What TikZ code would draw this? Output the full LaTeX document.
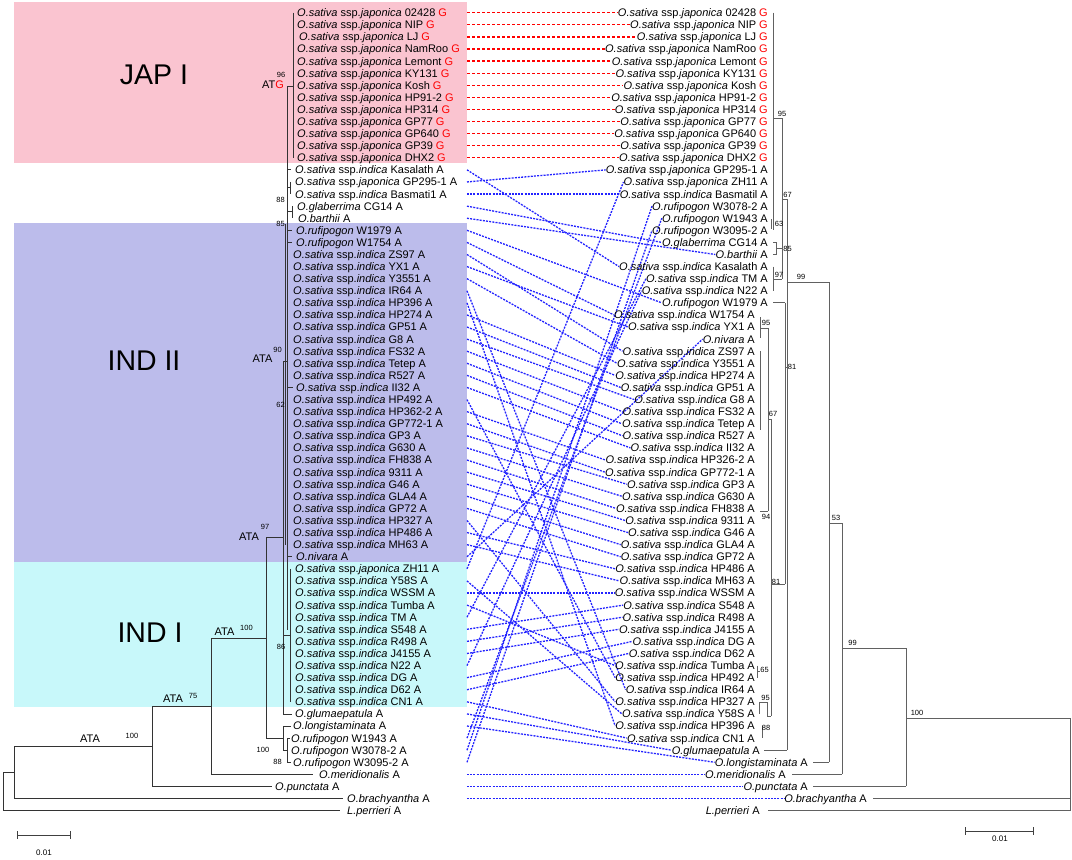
\documentclass[tikz,border=0pt]{standalone}
\usepackage{fontspec}
\setmainfont{Liberation Sans}
\definecolor{jpink}{RGB}{250,196,208}
\definecolor{ilav}{RGB}{188,188,235}
\definecolor{icyan}{RGB}{200,248,250}
\definecolor{lnred}{RGB}{255,0,0}
\definecolor{lnblue}{RGB}{35,35,255}
\newcommand\rowy[1]{12.7+12.09*(#1)}
\newcommand\sspjap{\textit{O.sativa} ssp.\textit{japonica}}
\newcommand\sspind{\textit{O.sativa} ssp.\textit{indica}}
\newcommand\gG{\textcolor{red}{G}}
\pgfdeclarelayer{backdrop}
\pgfdeclarelayer{links}
\pgfsetlayers{backdrop,links,main}
\begin{document}
\begin{tikzpicture}[x=1pt,y=-1pt,
  leaf/.style={font=\fontsize{11}{12}\selectfont, inner sep=0pt, text height=7.9pt, text depth=0pt},
  lft/.style={leaf, anchor=west},
  rgt/.style={leaf, anchor=east},
  boot/.style={font=\fontsize{7.5}{8}\selectfont, inner sep=0pt},
  ata/.style={font=\fontsize{11}{12}\selectfont, inner sep=0pt},
  clade/.style={font=\fontsize{28.5}{30}\selectfont, inner sep=0pt},
  ltree/.style={draw=black!80, line width=0.8pt},
  rtree/.style={draw=black!62, line width=0.9pt},
  japlink/.style={color=lnred, line width=1.3pt, dash pattern=on 3.3pt off 1.7pt},
  indlink/.style={color=lnblue, line width=1.3pt, dash pattern=on 2pt off 1.2pt},
  sbar/.style={draw=black!75, line width=0.8pt},
  sbtext/.style={font=\fontsize{8}{9}\selectfont, inner sep=0pt}]
\begin{pgfonlayer}{backdrop}
\fill[white] (0,0) rectangle (1072,860);
\fill[jpink] (14,2) rectangle (467,163);
\fill[ilav] (14,223) rectangle (467,562);
\fill[icyan] (14,562) rectangle (467,707);
\end{pgfonlayer}
\useasboundingbox (0,0) rectangle (1072,860);
\node[clade] (japI) at (154,75) {JAP I};
\node[clade] (indII) at (144,361) {IND II};
\node[clade] (indI) at (150,633) {IND I};

% ---------------- left tree ----------------
\draw[ltree] (293,{\rowy{0}}) -- (293,{\rowy{12}});
\draw[ltree] (287,86) -- (293,86);
\draw[ltree] (287,86) -- (287,630);
\draw[ltree] (285,224) -- (285,545);
\draw[ltree] (287,{\rowy{13}}) -- (291,{\rowy{13}});
\draw[ltree] (290,{\rowy{14}}) -- (290,{\rowy{15}});
\draw[ltree] (287,187.5) -- (290,187.5);
\draw[ltree] (292,{\rowy{16}}) -- (292,{\rowy{17}});
\draw[ltree] (287,211.5) -- (292,211.5);
\draw[ltree] (287,{\rowy{18}}) -- (292,{\rowy{18}});
\draw[ltree] (287,{\rowy{19}}) -- (292,{\rowy{19}});
\draw[ltree] (287,{\rowy{31}}) -- (293,{\rowy{31}});
\draw[ltree] (287,{\rowy{45}}) -- (292,{\rowy{45}});
\draw[ltree] (283,361) -- (287,361);
\draw[ltree] (283,361) -- (283,{\rowy{58}});
\draw[ltree] (283,{\rowy{58}}) -- (292,{\rowy{58}});
\draw[ltree] (283,635) -- (290,635);
\draw[ltree] (290,{\rowy{46}}) -- (290,{\rowy{57}});
\draw[ltree] (266,537) -- (283,537);
\draw[ltree] (266,537) -- (266,{\rowy{60}});
\draw[ltree] (266,{\rowy{60}}) -- (283,{\rowy{60}});
\draw[ltree] (283,{\rowy{59}}) -- (283,750);
\draw[ltree] (283,{\rowy{59}}) -- (291,{\rowy{59}});
\draw[ltree] (283,750) -- (287,750);
\draw[ltree] (287,{\rowy{60}}) -- (287,{\rowy{62}});
\draw[ltree] (287,{\rowy{60}}) -- (290,{\rowy{60}});
\draw[ltree] (287,{\rowy{62}}) -- (291,{\rowy{62}});
\draw[ltree] (211,638) -- (266,638);
\draw[ltree] (211,638) -- (211,{\rowy{63}}) -- (313,{\rowy{63}});
\draw[ltree] (152,706) -- (211,706);
\draw[ltree] (152,706) -- (152,{\rowy{64}}) -- (272,{\rowy{64}});
\draw[ltree] (14,746) -- (152,746);
\draw[ltree] (14,746) -- (14,{\rowy{65}}) -- (343,{\rowy{65}});
\draw[ltree] (3,772) -- (14,772);
\draw[ltree] (3,772) -- (3,{\rowy{66}}) -- (340,{\rowy{66}});

% ---------------- right tree ----------------
\draw[rtree] (773,{\rowy{0}}) -- (773,{\rowy{18}});
\draw[rtree] (771,219) -- (771,229);
\draw[rtree] (773,118) -- (782,118);
\draw[rtree] (773,{\rowy{19}}) -- (776,{\rowy{19}}) -- (776,{\rowy{20}}) -- (773,{\rowy{20}});
\draw[rtree] (776,248.5) -- (782,248.5);
\draw[rtree] (773,{\rowy{21}}) -- (773,{\rowy{23}});
\draw[rtree] (773,279) -- (782,279);
\draw[rtree] (782,118) -- (782,279);
\draw[rtree] (782,199) -- (787,199);
\draw[rtree] (773,{\rowy{24}}) -- (785,{\rowy{24}});
\draw[rtree] (785,{\rowy{24}}) -- (785,584);
\draw[rtree] (785,367) -- (787,367);
\draw[rtree] (787,199) -- (787,{\rowy{61}});
\draw[rtree] (764,{\rowy{61}}) -- (787,{\rowy{61}});
\draw[rtree] (787,282) -- (829,282);
\draw[rtree] (829,282) -- (829,{\rowy{62}});
\draw[rtree] (813,{\rowy{62}}) -- (829,{\rowy{62}});
\draw[rtree] (829,523) -- (842,523);
\draw[rtree] (842,523) -- (842,{\rowy{63}});
\draw[rtree] (792,{\rowy{63}}) -- (842,{\rowy{63}});
\draw[rtree] (842,648) -- (906,648);
\draw[rtree] (906,648) -- (906,{\rowy{64}});
\draw[rtree] (813,{\rowy{64}}) -- (906,{\rowy{64}});
\draw[rtree] (906,718) -- (1070,718);
\draw[rtree] (1070,718) -- (1070,{\rowy{66}});
\draw[rtree] (873,{\rowy{65}}) -- (1070,{\rowy{65}});
\draw[rtree] (768,{\rowy{66}}) -- (1070,{\rowy{66}});
\draw[rtree] (760,317) -- (760,338);
\draw[rtree] (760,328) -- (768,328);
\draw[rtree] (768,328) -- (768,511);
\draw[rtree] (760,511) -- (768,511);
\draw[rtree] (760,351) -- (760,430);
\draw[rtree] (768,419) -- (771,419);
\draw[rtree] (771,419) -- (771,716);
\draw[rtree] (771,584) -- (785,584);
\draw[rtree] (757,{\rowy{54}}) -- (757,{\rowy{55}});
\draw[rtree] (757,671.6) -- (760,671.6);
\draw[rtree] (759,{\rowy{57}}) -- (759,{\rowy{58}});
\draw[rtree] (759,702) -- (767,702);
\draw[rtree] (767,702) -- (767,716) -- (771,716);
\draw[rtree] (762,{\rowy{59}}) -- (762,{\rowy{60}});

% ---------------- scale bars ----------------
\draw[sbar] (17,835) -- (70,835);
\draw[sbar] (17,831) -- (17,839);
\draw[sbar] (70,831) -- (70,839);
\draw[sbar] (965,831) -- (1033,831);
\draw[sbar] (965,827) -- (965,835);
\draw[sbar] (1033,827) -- (1033,835);
\node[sbtext] (sbl) at (44,853) {0.01};
\node[sbtext] (sbr) at (1000,838.5) {0.01};

% left support values and state labels
\node[ata] (atg) at (273,85) {AT\textcolor{red}{G}};
\node[boot] (b96) at (281,75) {96};
\node[boot] (b88a) at (280.5,200) {88};
\node[boot] (b85a) at (280.5,224) {85};
\node[ata] (ata90) at (262.5,359) {ATA};
\node[boot] (b90) at (277.5,350) {90};
\node[boot] (b62) at (280.5,405) {62};
\node[ata] (ata97) at (249,537) {ATA};
\node[boot] (b97) at (265,527) {97};
\node[boot] (b86) at (281,647) {86};
\node[ata] (ata100a) at (224.5,632) {ATA};
\node[boot] (b100a) at (246.5,628) {100};
\node[ata] (ata75) at (173,699) {ATA};
\node[boot] (b75) at (193,696) {75};
\node[ata] (ata100b) at (90,739) {ATA};
\node[boot] (b100b) at (132,736) {100};
\node[boot] (b100c) at (263,750) {100};
\node[boot] (b88b) at (277.5,762) {88};

% right support values
\node[boot] (r95a) at (782,114) {95};
\node[boot] (r67a) at (787.5,195) {67};
\node[boot] (r63) at (779,224) {63};
\node[boot] (r85) at (787.5,249) {85};
\node[boot] (r97) at (779,275) {97};
\node[boot] (r99a) at (801,277) {99};
\node[boot] (r81a) at (792,367) {81};
\node[boot] (r95b) at (766,323) {95};
\node[boot] (r67b) at (773,414) {67};
\node[boot] (r94) at (766,517) {94};
\node[boot] (r81b) at (776,582) {81};
\node[boot] (r53) at (836,518) {53};
\node[boot] (r65) at (764.5,670) {65};
\node[boot] (r95c) at (765.5,698) {95};
\node[boot] (r88) at (766,728) {88};
\node[boot] (r99b) at (852.5,643) {99};
\node[boot] (r100) at (917,713) {100};

% left leaves
\node[lft] (L0) at (297,{\rowy{0}}) {\sspjap{} 02428 \gG};
\node[lft] (L1) at (297,{\rowy{1}}) {\sspjap{} NIP \gG};
\node[lft] (L2) at (299,{\rowy{2}}) {\sspjap{} LJ \gG};
\node[lft] (L3) at (297,{\rowy{3}}) {\sspjap{} NamRoo \gG};
\node[lft] (L4) at (297,{\rowy{4}}) {\sspjap{} Lemont \gG};
\node[lft] (L5) at (297,{\rowy{5}}) {\sspjap{} KY131 \gG};
\node[lft] (L6) at (297,{\rowy{6}}) {\sspjap{} Kosh \gG};
\node[lft] (L7) at (297,{\rowy{7}}) {\sspjap{} HP91-2 \gG};
\node[lft] (L8) at (297,{\rowy{8}}) {\sspjap{} HP314 \gG};
\node[lft] (L9) at (297,{\rowy{9}}) {\sspjap{} GP77 \gG};
\node[lft] (L10) at (297,{\rowy{10}}) {\sspjap{} GP640 \gG};
\node[lft] (L11) at (297,{\rowy{11}}) {\sspjap{} GP39 \gG};
\node[lft] (L12) at (297,{\rowy{12}}) {\sspjap{} DHX2 \gG};
\node[lft] (L13) at (295,{\rowy{13}}) {\sspind{} Kasalath A};
\node[lft] (L14) at (295,{\rowy{14}}) {\sspjap{} GP295-1 A};
\node[lft] (L15) at (295,{\rowy{15}}) {\sspind{} Basmati1 A};
\node[lft] (L16) at (297,{\rowy{16}}) {\textit{O.glaberrima} CG14 A};
\node[lft] (L17) at (298,{\rowy{17}}) {\textit{O.barthii} A};
\node[lft] (L18) at (296,{\rowy{18}}) {\textit{O.rufipogon} W1979 A};
\node[lft] (L19) at (296,{\rowy{19}}) {\textit{O.rufipogon} W1754 A};
\node[lft] (L20) at (293,{\rowy{20}}) {\sspind{} ZS97 A};
\node[lft] (L21) at (293,{\rowy{21}}) {\sspind{} YX1 A};
\node[lft] (L22) at (293,{\rowy{22}}) {\sspind{} Y3551 A};
\node[lft] (L23) at (293,{\rowy{23}}) {\sspind{} IR64 A};
\node[lft] (L24) at (293,{\rowy{24}}) {\sspind{} HP396 A};
\node[lft] (L25) at (293,{\rowy{25}}) {\sspind{} HP274 A};
\node[lft] (L26) at (293,{\rowy{26}}) {\sspind{} GP51 A};
\node[lft] (L27) at (293,{\rowy{27}}) {\sspind{} G8 A};
\node[lft] (L28) at (293,{\rowy{28}}) {\sspind{} FS32 A};
\node[lft] (L29) at (293,{\rowy{29}}) {\sspind{} Tetep A};
\node[lft] (L30) at (293,{\rowy{30}}) {\sspind{} R527 A};
\node[lft] (L31) at (296,{\rowy{31}}) {\sspind{} II32 A};
\node[lft] (L32) at (293,{\rowy{32}}) {\sspind{} HP492 A};
\node[lft] (L33) at (293,{\rowy{33}}) {\sspind{} HP362-2 A};
\node[lft] (L34) at (293,{\rowy{34}}) {\sspind{} GP772-1 A};
\node[lft] (L35) at (293,{\rowy{35}}) {\sspind{} GP3 A};
\node[lft] (L36) at (293,{\rowy{36}}) {\sspind{} G630 A};
\node[lft] (L37) at (293,{\rowy{37}}) {\sspind{} FH838 A};
\node[lft] (L38) at (293,{\rowy{38}}) {\sspind{} 9311 A};
\node[lft] (L39) at (293,{\rowy{39}}) {\sspind{} G46 A};
\node[lft] (L40) at (293,{\rowy{40}}) {\sspind{} GLA4 A};
\node[lft] (L41) at (293,{\rowy{41}}) {\sspind{} GP72 A};
\node[lft] (L42) at (293,{\rowy{42}}) {\sspind{} HP327 A};
\node[lft] (L43) at (293,{\rowy{43}}) {\sspind{} HP486 A};
\node[lft] (L44) at (293,{\rowy{44}}) {\sspind{} MH63 A};
\node[lft] (L45) at (296,{\rowy{45}}) {\textit{O.nivara} A};
\node[lft] (L46) at (295,{\rowy{46}}) {\sspjap{} ZH11 A};
\node[lft] (L47) at (295,{\rowy{47}}) {\sspind{} Y58S A};
\node[lft] (L48) at (295,{\rowy{48}}) {\sspind{} WSSM A};
\node[lft] (L49) at (295,{\rowy{49}}) {\sspind{} Tumba A};
\node[lft] (L50) at (295,{\rowy{50}}) {\sspind{} TM A};
\node[lft] (L51) at (295,{\rowy{51}}) {\sspind{} S548 A};
\node[lft] (L52) at (295,{\rowy{52}}) {\sspind{} R498 A};
\node[lft] (L53) at (295,{\rowy{53}}) {\sspind{} J4155 A};
\node[lft] (L54) at (295,{\rowy{54}}) {\sspind{} N22 A};
\node[lft] (L55) at (295,{\rowy{55}}) {\sspind{} DG A};
\node[lft] (L56) at (295,{\rowy{56}}) {\sspind{} D62 A};
\node[lft] (L57) at (295,{\rowy{57}}) {\sspind{} CN1 A};
\node[lft] (L58) at (295,{\rowy{58}}) {\textit{O.glumaepatula} A};
\node[lft] (L59) at (293,{\rowy{59}}) {\textit{O.longistaminata} A};
\node[lft] (L60) at (291,{\rowy{60}}) {\textit{O.rufipogon} W1943 A};
\node[lft] (L61) at (291,{\rowy{61}}) {\textit{O.rufipogon} W3078-2 A};
\node[lft] (L62) at (293,{\rowy{62}}) {\textit{O.rufipogon} W3095-2 A};
\node[lft] (L63) at (319,{\rowy{63}}) {\textit{O.meridionalis} A};
\node[lft] (L64) at (275,{\rowy{64}}) {\textit{O.punctata} A};
\node[lft] (L65) at (347,{\rowy{65}}) {\textit{O.brachyantha} A};
\node[lft] (L66) at (347,{\rowy{66}}) {\textit{L.perrieri} A};

% right leaves
\node[rgt] (R0) at (768,{\rowy{0}}) {\sspjap{} 02428 \gG};
\node[rgt] (R1) at (768,{\rowy{1}}) {\sspjap{} NIP \gG};
\node[rgt] (R2) at (768,{\rowy{2}}) {\sspjap{} LJ \gG};
\node[rgt] (R3) at (768,{\rowy{3}}) {\sspjap{} NamRoo \gG};
\node[rgt] (R4) at (768,{\rowy{4}}) {\sspjap{} Lemont \gG};
\node[rgt] (R5) at (768,{\rowy{5}}) {\sspjap{} KY131 \gG};
\node[rgt] (R6) at (768,{\rowy{6}}) {\sspjap{} Kosh \gG};
\node[rgt] (R7) at (768,{\rowy{7}}) {\sspjap{} HP91-2 \gG};
\node[rgt] (R8) at (768,{\rowy{8}}) {\sspjap{} HP314 \gG};
\node[rgt] (R9) at (768,{\rowy{9}}) {\sspjap{} GP77 \gG};
\node[rgt] (R10) at (768,{\rowy{10}}) {\sspjap{} GP640 \gG};
\node[rgt] (R11) at (768,{\rowy{11}}) {\sspjap{} GP39 \gG};
\node[rgt] (R12) at (768,{\rowy{12}}) {\sspjap{} DHX2 \gG};
\node[rgt] (R13) at (768,{\rowy{13}}) {\sspjap{} GP295-1 A};
\node[rgt] (R14) at (768,{\rowy{14}}) {\sspjap{} ZH11 A};
\node[rgt] (R15) at (768,{\rowy{15}}) {\sspind{} Basmatil A};
\node[rgt] (R16) at (768,{\rowy{16}}) {\textit{O.rufipogon} W3078-2 A};
\node[rgt] (R17) at (768,{\rowy{17}}) {\textit{O.rufipogon} W1943 A};
\node[rgt] (R18) at (768,{\rowy{18}}) {\textit{O.rufipogon} W3095-2 A};
\node[rgt] (R19) at (768,{\rowy{19}}) {\textit{O.glaberrima} CG14 A};
\node[rgt] (R20) at (768,{\rowy{20}}) {\textit{O.barthii} A};
\node[rgt] (R21) at (768,{\rowy{21}}) {\sspind{} Kasalath A};
\node[rgt] (R22) at (768,{\rowy{22}}) {\sspind{} TM A};
\node[rgt] (R23) at (768,{\rowy{23}}) {\sspind{} N22 A};
\node[rgt] (R24) at (768,{\rowy{24}}) {\textit{O.rufipogon} W1979 A};
\node[rgt] (R25) at (755,{\rowy{25}}) {\sspind{} W1754 A};
\node[rgt] (R26) at (755,{\rowy{26}}) {\sspind{} YX1 A};
\node[rgt] (R27) at (755,{\rowy{27}}) {\textit{O.nivara} A};
\node[rgt] (R28) at (755,{\rowy{28}}) {\sspind{} ZS97 A};
\node[rgt] (R29) at (755,{\rowy{29}}) {\sspind{} Y3551 A};
\node[rgt] (R30) at (755,{\rowy{30}}) {\sspind{} HP274 A};
\node[rgt] (R31) at (755,{\rowy{31}}) {\sspind{} GP51 A};
\node[rgt] (R32) at (755,{\rowy{32}}) {\sspind{} G8 A};
\node[rgt] (R33) at (755,{\rowy{33}}) {\sspind{} FS32 A};
\node[rgt] (R34) at (755,{\rowy{34}}) {\sspind{} Tetep A};
\node[rgt] (R35) at (755,{\rowy{35}}) {\sspind{} R527 A};
\node[rgt] (R36) at (755,{\rowy{36}}) {\sspind{} II32 A};
\node[rgt] (R37) at (755,{\rowy{37}}) {\sspind{} HP326-2 A};
\node[rgt] (R38) at (755,{\rowy{38}}) {\sspind{} GP772-1 A};
\node[rgt] (R39) at (755,{\rowy{39}}) {\sspind{} GP3 A};
\node[rgt] (R40) at (755,{\rowy{40}}) {\sspind{} G630 A};
\node[rgt] (R41) at (755,{\rowy{41}}) {\sspind{} FH838 A};
\node[rgt] (R42) at (755,{\rowy{42}}) {\sspind{} 9311 A};
\node[rgt] (R43) at (755,{\rowy{43}}) {\sspind{} G46 A};
\node[rgt] (R44) at (755,{\rowy{44}}) {\sspind{} GLA4 A};
\node[rgt] (R45) at (755,{\rowy{45}}) {\sspind{} GP72 A};
\node[rgt] (R46) at (755,{\rowy{46}}) {\sspind{} HP486 A};
\node[rgt] (R47) at (755,{\rowy{47}}) {\sspind{} MH63 A};
\node[rgt] (R48) at (755,{\rowy{48}}) {\sspind{} WSSM A};
\node[rgt] (R49) at (755,{\rowy{49}}) {\sspind{} S548 A};
\node[rgt] (R50) at (755,{\rowy{50}}) {\sspind{} R498 A};
\node[rgt] (R51) at (755,{\rowy{51}}) {\sspind{} J4155 A};
\node[rgt] (R52) at (755,{\rowy{52}}) {\sspind{} DG A};
\node[rgt] (R53) at (755,{\rowy{53}}) {\sspind{} D62 A};
\node[rgt] (R54) at (755,{\rowy{54}}) {\sspind{} Tumba A};
\node[rgt] (R55) at (755,{\rowy{55}}) {\sspind{} HP492 A};
\node[rgt] (R56) at (755,{\rowy{56}}) {\sspind{} IR64 A};
\node[rgt] (R57) at (755,{\rowy{57}}) {\sspind{} HP327 A};
\node[rgt] (R58) at (755,{\rowy{58}}) {\sspind{} Y58S A};
\node[rgt] (R59) at (755,{\rowy{59}}) {\sspind{} HP396 A};
\node[rgt] (R60) at (755,{\rowy{60}}) {\sspind{} CN1 A};
\node[rgt] (R61) at (760,{\rowy{61}}) {\textit{O.glumaepatula} A};
\node[rgt] (R62) at (808,{\rowy{62}}) {\textit{O.longistaminata} A};
\node[rgt] (R63) at (786,{\rowy{63}}) {\textit{O.meridionalis} A};
\node[rgt] (R64) at (808,{\rowy{64}}) {\textit{O.punctata} A};
\node[rgt] (R65) at (867,{\rowy{65}}) {\textit{O.brachyantha} A};
\node[rgt] (R66) at (760,{\rowy{66}}) {\textit{L.perrieri} A};

% ---------------- connectors (on their own layer, under the labels) ----------------
\foreach \i in {0,...,65} \coordinate (cL\i) at (467,{\rowy{\i}});
\begin{pgfonlayer}{links}
\foreach \a in {0,...,12} \draw[japlink] (cL\a) -- (R\a.west);
\foreach \a/\b in {13/21,14/13,15/15,16/19,17/20,18/24,19/25,20/28,21/26,22/29,
  23/56,24/59,25/30,26/31,27/32,28/33,29/34,30/35,31/36,32/55,33/37,34/38,35/39,
  36/40,37/41,38/42,39/43,40/44,41/45,42/57,43/46,44/47,45/27,46/14,47/58,48/48,
  49/54,50/22,51/49,52/50,53/51,54/23,55/52,56/53,57/60,58/61,59/62,60/17,61/16,
  62/18,63/63,64/64,65/65}
  \draw[indlink] (cL\a) -- (R\b.west);
\end{pgfonlayer}
\end{tikzpicture}
\end{document}
